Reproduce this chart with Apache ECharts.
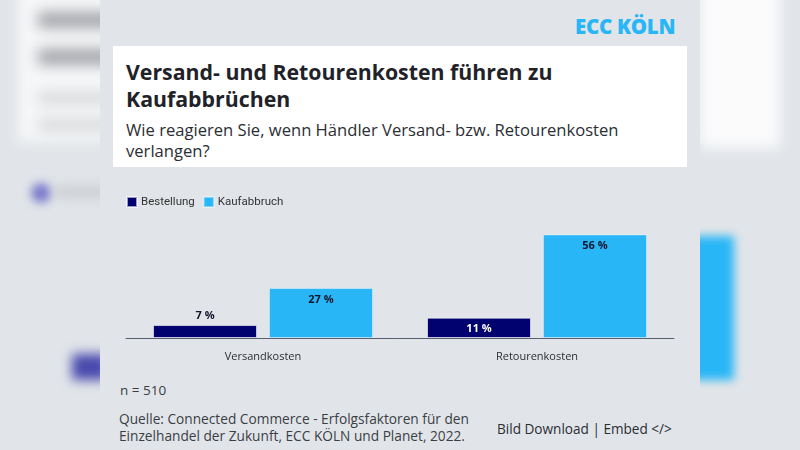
<!DOCTYPE html>
<html><head><meta charset="utf-8">
<script src="https://cdn.jsdelivr.net/npm/echarts@6/dist/echarts.min.js"></script>
<style>
html,body{margin:0;padding:0;width:800px;height:450px;overflow:hidden;background:#e1e5e9;font-family:"Open Sans","DejaVu Sans",sans-serif;}
.blur{position:absolute;filter:blur(7px);}
#card{position:absolute;left:100px;top:0;width:600px;height:450px;background:#e1e5e9;}
#titlebox{position:absolute;left:113px;top:46px;width:574px;height:121px;background:#fff;}
.t{position:absolute;white-space:nowrap;}
#chart{position:absolute;left:0;top:0;width:800px;height:450px;}
</style></head>
<body>
<!-- blurred side decoration -->
<div class="blur" style="left:18px;top:-20px;width:110px;height:162px;background:#f6f7f8;"></div>
<div class="blur" style="left:38px;top:12px;width:80px;height:16px;background:#a2a5aa;filter:blur(7px);"></div>
<div class="blur" style="left:38px;top:49px;width:80px;height:16px;background:#a2a5aa;filter:blur(7px);"></div>
<div class="blur" style="left:38px;top:92px;width:80px;height:12px;background:#d6d8db;filter:blur(7px);"></div>
<div class="blur" style="left:38px;top:119px;width:80px;height:12px;background:#d6d8db;filter:blur(7px);"></div>
<div class="blur" style="left:31px;top:183px;width:20px;height:20px;border-radius:10px;background:#7a7acb;filter:blur(5px);"></div>
<div class="blur" style="left:55px;top:187px;width:60px;height:10px;background:#c8cbcf;filter:blur(6px);"></div>
<div class="blur" style="left:72px;top:354px;width:36px;height:26px;background:#4848ad;filter:blur(6px);"></div>
<div class="blur" style="left:700px;top:-20px;width:80px;height:168px;background:#fbfbfc;"></div>
<div class="blur" style="left:690px;top:236px;width:44px;height:144px;background:#29b6f6;filter:blur(5px);"></div>
<div id="card"></div>
<div id="titlebox"></div>
<div class="t" style="left:575px;top:12px;font-family:'Open Sans',sans-serif;font-weight:800;font-size:20.5px;color:#29b6f6;letter-spacing:-0.3px;">ECC KÖLN</div>
<div class="t" style="left:126px;top:58px;font-weight:700;font-size:21.3px;line-height:27px;color:#1f2228;">Versand- und Retourenkosten führen zu<br>Kaufabbrüchen</div>
<div class="t" style="left:126px;top:119px;font-weight:400;font-size:16.6px;line-height:21px;color:#2b2e33;">Wie reagieren Sie, wenn Händler Versand- bzw. Retourenkosten<br>verlangen?</div>
<div class="t" style="left:120px;top:381px;font-size:13.5px;color:#3b3e44;">n = 510</div>
<div class="t" style="left:119px;top:410px;font-size:13.7px;line-height:17px;color:#3b3e44;">Quelle: Connected Commerce - Erfolgsfaktoren für den<br>Einzelhandel der Zukunft, ECC KÖLN und Planet, 2022.</div>
<div class="t" style="left:497px;top:419px;font-size:13.6px;color:#2b2e33;">Bild Download | Embed &lt;/&gt;</div>
<div id="chart"></div>
<script>
const categories = ["Versandkosten", "Retourenkosten"];
const seriesNames = ["Bestellung", "Kaufabbruch"];
const bestellung = [7, 11];
const kaufabbruch = [27, 56];
const bestellungLabelPos = ["top", "insideTop"];
const bestellungLabelColor = ["#14142b", "#ffffff"];

const chart = echarts.init(document.getElementById('chart'), null, {renderer: 'canvas'});
const labelFont = {fontFamily: "Open Sans, sans-serif", fontWeight: 700, fontSize: 11};
chart.setOption({
  backgroundColor: 'transparent',
  animation: false,
  legend: {
    left: 121, top: 191, itemWidth: 10, itemHeight: 10, itemGap: 8,
    icon: 'rect',
    data: seriesNames,
    textStyle: {fontFamily: "Roboto, sans-serif", fontSize: 11.5, color: '#333', padding: [0,0,0,-1]}
  },
  grid: {left: 126, right: 126, top: 227, bottom: 112, containLabel: false},
  xAxis: {
    type: 'category', data: categories,
    axisLine: {lineStyle: {color: '#5b6070', width: 1}},
    axisTick: {show: false},
    axisLabel: {margin: 13, fontFamily: "Open Sans, sans-serif", fontSize: 11, color: '#2b2e33'}
  },
  yAxis: {type: 'value', min: 0, max: 60, show: false, splitLine: {show: false}},
  series: [
    {
      name: seriesNames[0], type: 'bar', barWidth: 104, barGap: '11.5%',
      itemStyle: {color: '#020170', borderColor: 'rgba(255,255,255,0.6)', borderWidth: 1},
      data: bestellung.map((v, i) => ({
        value: v,
        label: {show: true, position: bestellungLabelPos[i], distance: i === 0 ? 4 : 6,
          color: bestellungLabelColor[i], formatter: '{c} %', ...labelFont}
      }))
    },
    {
      name: seriesNames[1], type: 'bar', barWidth: 104,
      itemStyle: {color: '#29b6f6', borderColor: 'rgba(255,255,255,0.4)', borderWidth: 1},
      label: {show: true, position: 'insideTop', distance: 6, color: '#14142b', formatter: '{c} %', ...labelFont},
      data: kaufabbruch
    }
  ]
});
</script>
</body></html>
